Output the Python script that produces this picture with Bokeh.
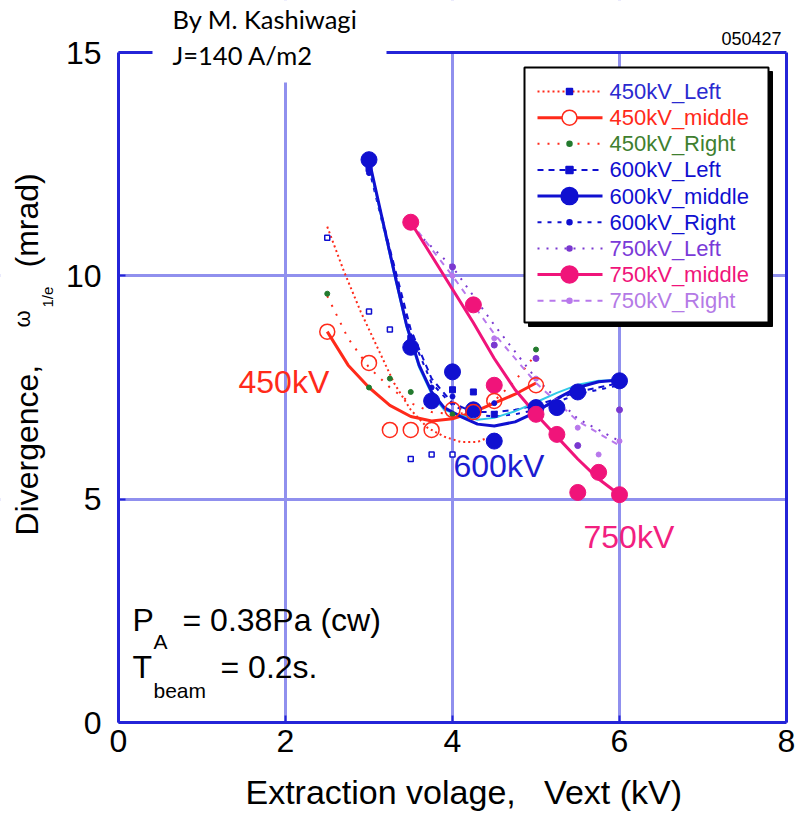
import math
from bokeh.plotting import figure
from bokeh.models import Range1d, Label, BoxAnnotation, LinearAxis, FixedTicker
from bokeh.core.properties import value
from bokeh.embed import file_html
from bokeh.resources import INLINE

# ---------------- data ----------------
x_450_left = [2.5, 3.0, 3.25, 3.5, 3.75, 4.0]
y_450_left = [10.85, 9.2, 8.8, 5.9, 6.0, 6.0]
fx_450_left = [2.5, 2.7, 2.9, 3.1, 3.3, 3.5, 3.7, 3.9, 4.1, 4.3, 4.4]
fy_450_left = [11.1, 10.1, 9.2, 8.4, 7.6, 7.0, 6.6, 6.4, 6.28, 6.28, 6.36]

x_450_mid = [2.5, 3.0, 3.25, 3.5, 3.75, 4.0, 4.25, 4.5, 5.0]
y_450_mid = [8.75, 8.05, 6.55, 6.55, 6.55, 7.0, 6.95, 7.2, 7.55]
fx_450_mid = [2.5, 2.75, 3.0, 3.25, 3.5, 3.75, 4.0, 4.25, 4.5, 4.75, 5.0]
fy_450_mid = [8.75, 8.0, 7.5, 7.1, 6.85, 6.75, 6.8, 6.95, 7.15, 7.35, 7.6]

x_450_right = [2.5, 3.0, 3.25, 3.5, 4.0, 5.0]
y_450_right = [9.6, 7.5, 7.7, 7.4, 6.9, 8.35]
fx_450_right = [2.5, 2.75, 3.0, 3.25, 3.5, 3.75, 4.0, 4.25, 4.5, 4.75, 5.0]
fy_450_right = [9.55, 8.6, 7.95, 7.5, 7.15, 6.95, 6.9, 6.95, 7.2, 7.65, 8.25]

x_600_left = [3.0, 3.5, 4.0, 4.25, 4.5, 5.0, 5.5, 6.0]
y_600_left = [12.4, 8.6, 7.45, 7.4, 6.9, 7.05, 7.35, 7.6]
fx_600_left = [3.0, 3.25, 3.5, 3.75, 4.0, 4.25, 4.5, 4.75, 5.0, 5.5, 6.0]
fy_600_left = [12.5, 10.6, 8.8, 7.7, 7.15, 6.95, 6.95, 7.0, 7.1, 7.4, 7.6]

x_600_mid = [3.0, 3.5, 3.75, 4.0, 4.25, 4.5, 5.0, 5.25, 5.5, 6.0]
y_600_mid = [12.6, 8.4, 7.2, 7.85, 7.0, 6.3, 7.05, 7.05, 7.4, 7.65]
fx_600_mid = [3.0, 3.15, 3.3, 3.45, 3.6, 3.75, 3.9, 4.1, 4.3, 4.5, 4.75, 5.0, 5.25, 5.5, 5.75, 6.0]
fy_600_mid = [12.6, 11.35, 10.1, 8.9, 8.0, 7.4, 7.05, 6.85, 6.68, 6.64, 6.73, 6.95, 7.25, 7.5, 7.63, 7.67]
fy_600_cyan = [12.55, 11.3, 10.05, 8.85, 7.95, 7.35, 7.0, 6.87, 6.78, 6.82, 6.97, 7.17, 7.38, 7.56, 7.65, 7.67]

x_600_right = [3.0, 3.5, 3.75, 4.0, 4.5, 5.0, 5.5, 6.0]
y_600_right = [12.3, 8.3, 7.5, 7.3, 7.15, 6.95, 7.3, 7.55]
fx_600_right = [3.0, 3.25, 3.5, 3.75, 4.0, 4.25, 4.5, 4.75, 5.0, 5.5, 6.0]
fy_600_right = [12.4, 10.5, 8.7, 7.6, 7.1, 6.9, 6.85, 6.9, 7.0, 7.35, 7.55]

x_750_left = [3.5, 4.0, 4.25, 4.5, 5.0, 5.5, 6.0]
y_750_left = [11.1, 10.2, 9.3, 8.45, 8.15, 6.2, 7.0]
fx_750_left = [3.5, 4.0, 4.5, 5.0, 5.5, 6.0]
fy_750_left = [11.1, 10.2, 8.9, 7.7, 6.8, 6.3]

x_750_mid = [3.5, 4.25, 4.5, 5.0, 5.25, 5.5, 5.75, 6.0]
y_750_mid = [11.2, 9.35, 7.55, 6.9, 6.45, 5.15, 5.6, 5.1]
fx_750_mid = [3.5, 3.75, 4.0, 4.25, 4.5, 4.75, 5.0, 5.25, 5.5, 5.75, 6.0]
fy_750_mid = [11.2, 10.45, 9.7, 8.95, 8.15, 7.45, 6.9, 6.4, 5.9, 5.45, 5.1]

x_750_right = [3.5, 4.0, 4.5, 5.0, 5.5, 5.75, 6.0]
y_750_right = [11.2, 10.0, 8.6, 7.7, 6.6, 6.0, 6.3]
fx_750_right = [3.5, 4.0, 4.5, 5.0, 5.5, 6.0]
fy_750_right = [11.2, 10.0, 8.7, 7.6, 6.75, 6.2]

x_ticks = [0, 2, 4, 6, 8]
y_ticks = [0, 5, 10, 15]
x_grid = [2, 4, 6]
y_grid = [5, 10]

# ---------------- styles ----------------
RED = "#ff2a1a"
BLUE = "#1010d0"
GREEN = "#237a2e"
PURPLE = "#7a38d0"
PINK = "#f0147a"
LAVENDER = "#b878ec"
CYAN = "#30c8e8"
FRAME = "#2424d8"
GRID = "#9090ee"
FONT = "Liberation Sans"
NOTE_FONT = "Lato"

W, H = 797, 813
L, R, T, B = 118, 11, 52, 91          # position of the plotting box in the window
X0, X1, Y0, Y1 = 0, 8, 0, 15
SX = (W - L - R) / (X1 - X0)
SY = (H - T - B) / (Y1 - Y0)


def dx(px):
    return X0 + (px - L) / SX


def dy(py):
    return Y0 + (H - B - py) / SY


# the frame covers the whole window so that every text can sit anywhere
p = figure(width=W, height=H, output_backend="svg", toolbar_location=None,
           x_range=Range1d(dx(0), dx(W)), y_range=Range1d(dy(H), dy(0)),
           min_border=0)
p.outline_line_color = None
p.background_fill_color = "white"
p.border_fill_color = "white"

for ax in (p.xaxis[0], p.yaxis[0]):
    ax.fixed_location = 0
    ax.axis_line_color = FRAME
    ax.axis_line_width = 3
    ax.major_tick_in = 7
    ax.major_tick_out = 0
    ax.major_tick_line_color = FRAME
    ax.major_tick_line_width = 2
    ax.minor_tick_line_color = None
    ax.major_label_text_font = FONT
    ax.major_label_text_font_size = "32px"
    ax.major_label_text_color = "black"
p.xaxis.ticker = FixedTicker(ticks=x_ticks)
p.yaxis.ticker = FixedTicker(ticks=y_ticks)
p.xaxis.bounds = (X0, X1)
p.yaxis.bounds = (Y0, Y1)
p.xaxis.major_label_standoff = 7
p.yaxis.major_label_standoff = 17

ax_r = LinearAxis(fixed_location=X1, bounds=(Y0, Y1), axis_line_color=FRAME, axis_line_width=3,
                  major_tick_line_color=None, minor_tick_line_color=None,
                  major_label_text_font_size="0px", major_label_text_color=None)
p.add_layout(ax_r, "right")
ax_t = LinearAxis(fixed_location=Y1, bounds=(X0, X1), axis_line_color=FRAME, axis_line_width=3,
                  major_tick_line_color=None, minor_tick_line_color=None,
                  major_label_text_font_size="0px", major_label_text_color=None)
p.add_layout(ax_t, "above")

p.xgrid.ticker = FixedTicker(ticks=x_grid)
p.ygrid.ticker = FixedTicker(ticks=y_grid)
p.grid.grid_line_color = GRID
p.grid.grid_line_width = 3

# white masks so that grid lines stop at the plotting box
xa, xb, ya, yb = dx(0), dx(W), dy(H), dy(0)
p.quad(left=[xa, xa, xa, X1], right=[xb, xb, X0, xb], bottom=[Y1, ya, Y0, Y0], top=[yb, Y0, Y1, Y1],
       fill_color="white", line_color=None)

# ---------------- fitted lines ----------------
p.line(fx_450_left, fy_450_left, color=RED, line_width=2, line_dash="2 3")
p.line(fx_450_right, fy_450_right, color=RED, line_width=2, line_dash="2 8")
p.line(fx_450_mid, fy_450_mid, color=RED, line_width=3)
p.line(fx_600_left, fy_600_left, color=BLUE, line_width=2, line_dash="6 5")
p.line(fx_600_right, fy_600_right, color=BLUE, line_width=2, line_dash="4 6")
p.line(fx_600_mid, fy_600_cyan, color=CYAN, line_width=2)
p.line(fx_600_mid, fy_600_mid, color=BLUE, line_width=3)
p.line(fx_750_left, fy_750_left, color=PURPLE, line_width=2, line_dash="2 7")
p.line(fx_750_right, fy_750_right, color=LAVENDER, line_width=2, line_dash="6 6")
p.line(fx_750_mid, fy_750_mid, color=PINK, line_width=3)

# ---------------- measured points ----------------
p.scatter(x_450_left, y_450_left, marker="square", size=5, fill_color="white", line_color=BLUE, line_width=1.5)
p.scatter(x_450_right, y_450_right, marker="circle", size=5, color=GREEN)
p.scatter(x_600_left, y_600_left, marker="square", size=6, color=BLUE)
p.scatter(x_600_right, y_600_right, marker="circle", size=5, color=BLUE)
p.scatter(x_750_left, y_750_left, marker="circle", size=6, color=PURPLE)
p.scatter(x_750_right, y_750_right, marker="circle", size=5, color=LAVENDER)
p.scatter(x_600_mid, y_600_mid, marker="circle", size=16, color=BLUE)
p.scatter(x_750_mid, y_750_mid, marker="circle", size=16, color=PINK)
p.scatter(x_450_mid, y_450_mid, marker="circle", size=15, fill_color=None, line_color=RED, line_width=1.5)

# ---------------- legend (drawn by hand for coloured labels) ----------------
legend_items = [
    ("450kV_Left", "#2a2ad0", RED, "2 3", 2, "square", 6, BLUE, BLUE),
    ("450kV_middle", RED, RED, "solid", 3, "circle", 15, None, RED),
    ("450kV_Right", "#3f7f2f", RED, "2 8", 2, "circle", 5, GREEN, GREEN),
    ("600kV_Left", BLUE, BLUE, "6 5", 2, "square", 7, BLUE, BLUE),
    ("600kV_middle", BLUE, BLUE, "solid", 3, "circle", 17, BLUE, BLUE),
    ("600kV_Right", BLUE, BLUE, "4 6", 2, "circle", 5, BLUE, BLUE),
    ("750kV_Left", "#7a3ad8", PURPLE, "2 7", 2, "circle", 5, PURPLE, PURPLE),
    ("750kV_middle", PINK, PINK, "solid", 3, "circle", 17, PINK, PINK),
    ("750kV_Right", "#b47ae6", LAVENDER, "6 6", 2, "circle", 5, LAVENDER, LAVENDER),
]
bl, br, bt, bb = 524, 768, 67, 322
p.quad(left=[dx(bl + 4)], right=[dx(br + 4)], top=[dy(bt + 4)], bottom=[dy(bb + 4)],
       fill_color="black", line_color="black")
p.quad(left=[dx(bl)], right=[dx(br)], top=[dy(bt)], bottom=[dy(bb)],
       fill_color="white", line_color="black", line_width=2)
for i, (lab_, tcol, lcol, dash, lw, mk, ms, mfill, mline) in enumerate(legend_items):
    py = 91 + 26.15 * i
    p.line([dx(537), dx(602)], [dy(py), dy(py)], color=lcol, line_width=lw, line_dash=dash)
    p.scatter([dx(569)], [dy(py)], marker=mk, size=ms,
              fill_color=mfill if mfill else "white", line_color=mline, line_width=1.5)
    p.text(x=[dx(609)], y=[dy(py)], text=[lab_], text_baseline="middle", text_align="left",
           text_font=value(FONT), text_font_size="22px", text_color=tcol)

# ---------------- annotations ----------------
def lab(px, py, text, size, color="black", font=FONT, angle=0.0, align="left", level="annotation"):
    # empirical correction of where the label's baseline lands
    k = 0.42
    if angle == 0.0:
        py = py - k * size
    else:
        px = px - k * size
    p.add_layout(Label(x=dx(px), y=dy(py), text=text, text_font=font,
                       text_font_size=f"{size}px", text_color=color, angle=angle,
                       text_align=align, text_baseline="alphabetic", level=level))

lab(238, 395, "450kV", 32, RED)
lab(453, 479, "600kV", 32, "#1c1cd0")
lab(583, 550, "750kV", 32, "#f2207f")

lab(132, 633, "P", 32)
lab(153, 650, "A", 21)
lab(182, 633, "= 0.38Pa (cw)", 32)
lab(132, 680, "T", 32)
lab(153, 699, "beam", 21)
lab(220, 680, "= 0.2s.", 32)

lab(781, 46, "050427", 18, align="right")

# axis titles
NB = "\u00a0"
lab(245, 806, "Extraction volage," + NB * 3 + "Vext (kV)", 34)
rot = math.pi / 2
lab(40, 535, "Divergence,", 32, angle=rot)
lab(31, 327, "\u03c9", 22, angle=rot)
lab(53, 307, "1/e", 15, angle=rot)
lab(40, 267, "(mrad)", 32, angle=rot)

# white patch with the author note
p.add_layout(BoxAnnotation(left=dx(152), right=dx(386), top=dy(0), bottom=dy(82),
                           fill_color="white", fill_alpha=1.0, line_color=None,
                           level="overlay"))
lab(172, 29, "By M. Kashiwagi", 25.5, font=NOTE_FONT, level="overlay")
lab(172, 65, "J=140 A/m2", 25.5, font=NOTE_FONT, level="overlay")

open("out.html", "w").write(file_html(p, INLINE))
